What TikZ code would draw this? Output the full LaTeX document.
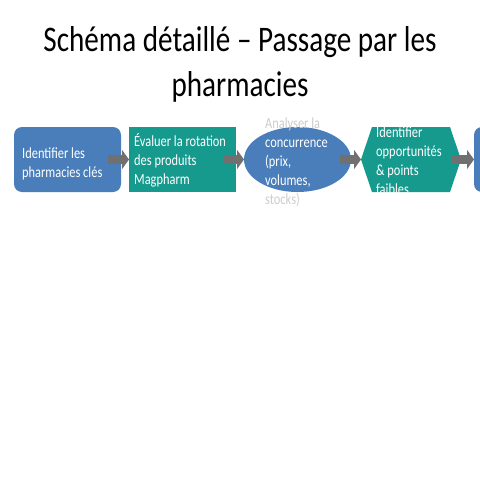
\documentclass[tikz,border=0pt]{standalone}
\usepackage{fontspec}
\setmainfont{Carlito}
\usetikzlibrary{shapes.geometric,arrows.meta}
\definecolor{boxblue}{HTML}{4A7EBB}
\definecolor{boxteal}{HTML}{179A8E}
\definecolor{arrgray}{HTML}{707070}
\definecolor{faint}{HTML}{CDCDCD}
\newcommand{\bodytxt}[1]{\scalebox{0.8}[1]{\fontsize{15.5}{19}\selectfont\begin{tabular}[t]{@{}l@{}}#1\end{tabular}}}
\begin{document}
\begin{tikzpicture}[x=1pt,y=-1pt,
  shapebox/.style={minimum width=107pt,minimum height=65pt,inner sep=0pt,outer sep=0pt,draw=none},
  rbox/.style={shapebox,rectangle,rounded corners=8pt,fill=boxblue},
  tbox/.style={shapebox,rectangle,fill=boxteal},
  ebox/.style={shapebox,ellipse,fill=boxblue},
  txt/.style={anchor=base west,inner sep=0pt,text=white},
  flow/.style={draw=arrgray,line width=9pt,-{Triangle[width=19pt,length=7pt]}}]
\useasboundingbox (0,0) rectangle (480,480);
\fill[white] (0,0) rectangle (480,480);
% title
\node[anchor=base,inner sep=0pt] (title) at (240,51)
  {\scalebox{0.81}[1]{\fontsize{36}{45}\selectfont\begin{tabular}[t]{@{}c@{}}Schéma détaillé – Passage par les\\pharmacies\end{tabular}}};
% shapes
\node[rbox] (b1) at (67.5,159.5) {};
\node[tbox] (b2) at (182.5,159.5) {};
\node[ebox] (b3) at (297.5,159.5) {};
\fill[boxteal] (361,159.5) -- (372,127) -- (450,127) -- (461,159.5) -- (450,192) -- (372,192) -- cycle;
\coordinate (b4w) at (361,159.5);
\coordinate (b4e) at (461,159.5);
\node[rbox] (b5) at (527.5,159.5) {};
% texts
\node[txt] (t1) at (22,158) {\bodytxt{Identifier les\\pharmacies clés}};
\node[txt] (t2) at (134,146.5) {\bodytxt{Évaluer la rotation\\des produits\\Magpharm}};
\node[txt] (t3) at (265,128) {\bodytxt{\textcolor{faint}{Analyser la}\\concurrence\\(prix,\\volumes,\\\textcolor{faint}{stocks)}}};
\node[txt] (t4) at (376,137) {\bodytxt{Identifier\\opportunités\\\& points\\faibles}};
% arrows
\draw[flow] ([xshift=-13pt]b1.east) -- (b2.west);
\draw[flow] ([xshift=-12pt]b2.east) -- (b3.west);
\draw[flow] ([xshift=-11pt]b3.east) -- (b4w);
\draw[flow] ([xshift=-9pt]b4e) -- (b5.west);
\end{tikzpicture}
\end{document}
